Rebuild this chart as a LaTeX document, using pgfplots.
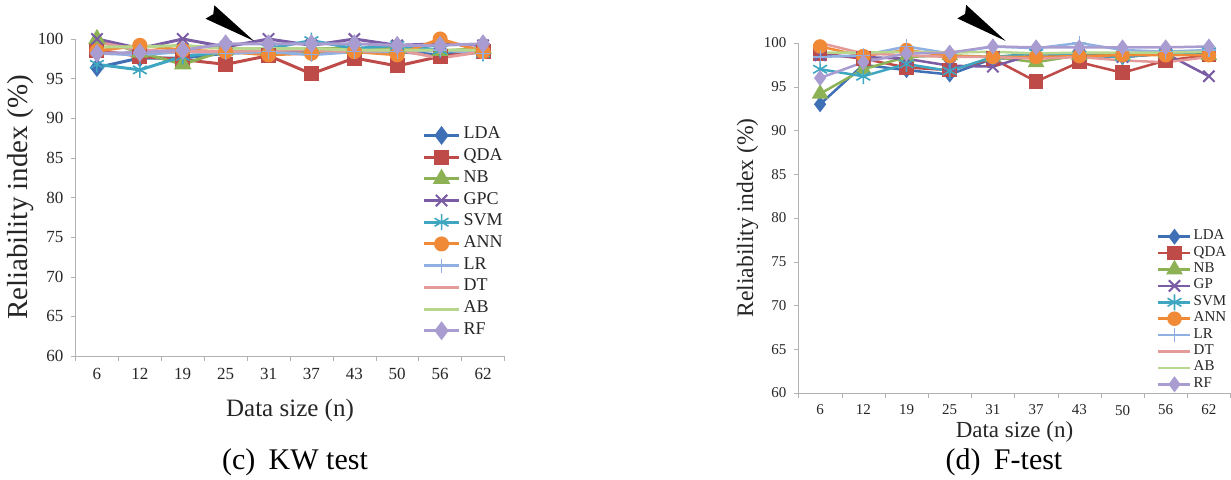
\documentclass[border=0pt]{standalone}
\usepackage{fontspec}
\setmainfont{Liberation Serif}
\usepackage{pgfplots}
\usepackage{pgfplotstable}
\pgfplotsset{compat=1.18}

\definecolor{cLDA}{HTML}{3F6FB5}
\definecolor{cQDA}{HTML}{BE4B48}
\definecolor{cNB}{HTML}{8DB255}
\definecolor{cGPC}{HTML}{7A5CA5}
\definecolor{cSVM}{HTML}{3FA6C2}
\definecolor{cANN}{HTML}{F08A36}
\definecolor{cLR}{HTML}{8FB0E0}
\definecolor{cDT}{HTML}{E39A98}
\definecolor{cAB}{HTML}{B8D78E}
\definecolor{cRF}{HTML}{A99CD0}

% KW test (c)
\pgfplotstableread{
idx LDA  QDA  NB    GPC   SVM  ANN   LR   DT   AB   RF
0   96.4 98.6 100.0 100.0 96.8 98.5  98.2 99.6 99.0 98.2
1   97.6 97.8 98.3  98.8  96.1 99.2  98.0 98.6 99.0 98.3
2   97.6 97.4 96.8  100.0 97.8 98.6  98.4 98.4 99.2 98.6
3   98.2 96.8 98.6  99.0  98.4 98.4  98.2 98.4 98.8 99.4
4   98.4 97.9 98.6  100.0 98.8 98.0  98.4 98.6 98.8 99.4
5   98.3 95.6 98.8  99.2  99.8 98.2  98.0 98.6 98.8 99.4
6   98.6 97.6 98.8  100.0 98.8 98.4  98.4 98.4 98.6 99.4
7   98.4 96.6 98.8  99.2  99.2 98.0  98.4 98.6 98.6 99.2
8   98.0 97.8 98.5  99.4  98.6 100.0 98.6 97.6 98.6 99.2
9   98.6 98.4 98.8  99.2  98.2 98.4  98.2 98.4 98.6 99.4
}\kwdata

% F-test (d)
\pgfplotstableread{
idx LDA  QDA  NB   GP   SVM  ANN  LR    DT    AB   RF
0   93.0 98.8 94.2 98.6 97.0 99.6 98.4  100.0 98.9 96.0
1   97.5 98.2 97.0 98.4 96.2 98.5 98.6  98.8  98.9 97.8
2   96.9 97.2 98.4 98.2 97.6 99.2 99.6  98.6  99.0 98.8
3   96.4 96.9 98.6 97.4 96.8 98.5 98.8  98.4  98.9 98.9
4   98.2 98.2 98.4 97.3 98.4 98.4 99.6  98.4  99.0 99.6
5   98.4 95.6 97.8 98.8 98.8 98.4 99.4  98.2  98.8 99.5
6   98.6 97.8 98.6 98.6 98.6 98.5 100.0 98.4  98.9 99.5
7   98.4 96.6 98.6 98.4 98.4 98.6 99.2  98.0  98.9 99.5
8   98.8 98.0 98.8 98.8 98.8 98.6 99.0  97.8  98.9 99.5
9   98.8 98.6 98.6 96.2 99.0 98.6 99.2  98.4  99.0 99.6
}\ftdata

\pgfplotsset{
  relchart/.style={
    scale only axis, clip=false,
    xmin=-0.5, xmax=9.5, ymin=60, ymax=100,
    ytick={60,65,...,100},
    xtick={0,...,9}, xticklabels={6,12,19,25,31,37,43,50,56,62},
    minor xtick={-0.5,0.5,...,9.5},
    major x tick style={draw=none},
    axis x line*=bottom, axis y line*=left,
    axis line style={black!30}, tick style={black!30},
    tick align=outside, major tick length=2.5pt, minor tick length=2.5pt,
    /pgf/number format/assume math mode=true,
    tick label style={black!85},
    label style={black!85},
    xlabel={Data size (n)}, ylabel={Reliability index (\%)},
    legend cell align=left,
    legend style={draw=none, fill=none, row sep=0pt, inner sep=0pt,
      outer sep=0pt, text=black!85, anchor=north west},
  },
  sLDA/.style={color=cLDA, mark=diamond*, mark size=3.5pt},
  sQDA/.style={color=cQDA, mark=square*, mark size=3pt},
  sNB/.style={color=cNB, mark=triangle*, mark size=3.6pt},
  sGPC/.style={color=cGPC, mark=x, mark size=4pt, mark options={line width=1pt}},
  sSVM/.style={color=cSVM, mark=asterisk, mark size=4pt, mark options={line width=0.8pt}},
  sANN/.style={color=cANN, mark=*, mark size=3pt},
  sLR/.style={color=cLR, mark=+, mark size=3.5pt, mark options={line width=0.6pt}},
  sDT/.style={color=cDT, mark=none},
  sAB/.style={color=cAB, mark=none},
  sRF/.style={color=cRF, mark=diamond*, mark size=3.5pt},
}

\begin{document}
\begin{tikzpicture}
\useasboundingbox (0,0) rectangle (615.5pt,240pt);

% ---------- (c) KW test ----------
\begin{axis}[relchart,
  at={(37.75pt,62pt)}, anchor=south west,
  width=214.5pt, height=158.5pt,
  tick label style={font=\fontsize{8.5}{10}\selectfont},
  xlabel style={font=\fontsize{12.5}{14}\selectfont,
    at={([yshift=-27pt]axis description cs:0.5,0)}, anchor=center},
  ylabel style={font=\fontsize{14.5}{16}\selectfont,
    at={([xshift=-27.5pt]axis description cs:0,0.5)}, anchor=center},
  every axis plot/.append style={line width=1.5pt},
  legend image code/.code={
    \draw[#1, mark repeat=2, mark phase=2]
      plot coordinates {(0pt,0pt) (8.75pt,0pt) (17.5pt,0pt)};},
  legend style={at={([xshift=-1.5pt]axis cs:7.66,89.2)},
    font=\fontsize{9}{10}\selectfont,
    nodes={inner ysep=0pt, inner xsep=1.5pt, text height=7.2pt, text depth=3.65pt}},
]
\addplot[sLDA] table[x=idx,y=LDA]{\kwdata};
\addplot[sQDA] table[x=idx,y=QDA]{\kwdata};
\addplot[sNB]  table[x=idx,y=NB]{\kwdata};
\addplot[sGPC] table[x=idx,y=GPC]{\kwdata};
\addplot[sSVM] table[x=idx,y=SVM]{\kwdata};
\addplot[sANN] table[x=idx,y=ANN]{\kwdata};
\addplot[sLR]  table[x=idx,y=LR]{\kwdata};
\addplot[sDT]  table[x=idx,y=DT]{\kwdata};
\addplot[sAB]  table[x=idx,y=AB]{\kwdata};
\addplot[sRF]  table[x=idx,y=RF]{\kwdata};
\legend{LDA,QDA,NB,GPC,SVM,ANN,LR,DT,AB,RF}
% pointer arrow
\fill[black] (axis cs:3.660,99.75) -- (axis cs:2.737,104.25)
  -- (axis cs:2.711,103.13) -- (axis cs:2.531,102.56) -- cycle;
\end{axis}

% ---------- (d) F-test ----------
\begin{axis}[relchart,
  at={(399.25pt,43.5pt)}, anchor=south west,
  width=216pt, height=175pt,
  tick label style={font=\fontsize{7.5}{9}\selectfont},
  xlabel style={font=\fontsize{11.5}{13}\selectfont,
    at={([yshift=-19.5pt]axis description cs:0.5,0)}, anchor=center},
  ylabel style={font=\fontsize{11.8}{13}\selectfont,
    at={([xshift=-25.5pt]axis description cs:0,0.5)}, anchor=center},
  every axis plot/.append style={line width=1.25pt},
  sLDA/.append style={mark size=3pt}, sRF/.append style={mark size=3pt},
  legend image code/.code={
    \draw[#1, mark repeat=2, mark phase=2]
      plot coordinates {(0pt,0pt) (8pt,0pt) (16pt,0pt)};},
  legend style={at={([xshift=-1pt]axis cs:7.85,78.8)},
    font=\fontsize{7.5}{8}\selectfont,
    nodes={inner ysep=0pt, inner xsep=1pt, text height=5.6pt, text depth=2.6pt}},
]
\addplot[sLDA] table[x=idx,y=LDA]{\ftdata};
\addplot[sQDA] table[x=idx,y=QDA]{\ftdata};
\addplot[sNB]  table[x=idx,y=NB]{\ftdata};
\addplot[sGPC] table[x=idx,y=GP]{\ftdata};
\addplot[sSVM] table[x=idx,y=SVM]{\ftdata};
\addplot[sANN] table[x=idx,y=ANN]{\ftdata};
\addplot[sLR]  table[x=idx,y=LR]{\ftdata};
\addplot[sDT]  table[x=idx,y=DT]{\ftdata};
\addplot[sAB]  table[x=idx,y=AB]{\ftdata};
\addplot[sRF]  table[x=idx,y=RF]{\ftdata};
\legend{LDA,QDA,NB,GP,SVM,ANN,LR,DT,AB,RF}
\fill[black] (axis cs:4.296,100.23) -- (axis cs:3.381,104.35)
  -- (axis cs:3.356,103.32) -- (axis cs:3.178,102.81) -- cycle;
\end{axis}

% captions
\node[font=\fontsize{15}{17}\selectfont] at (147.5pt,9pt) {(c)\;\,KW test};
\node[font=\fontsize{15}{17}\selectfont] at (502pt,9pt) {(d)\;\,F-test};
\end{tikzpicture}
\end{document}
